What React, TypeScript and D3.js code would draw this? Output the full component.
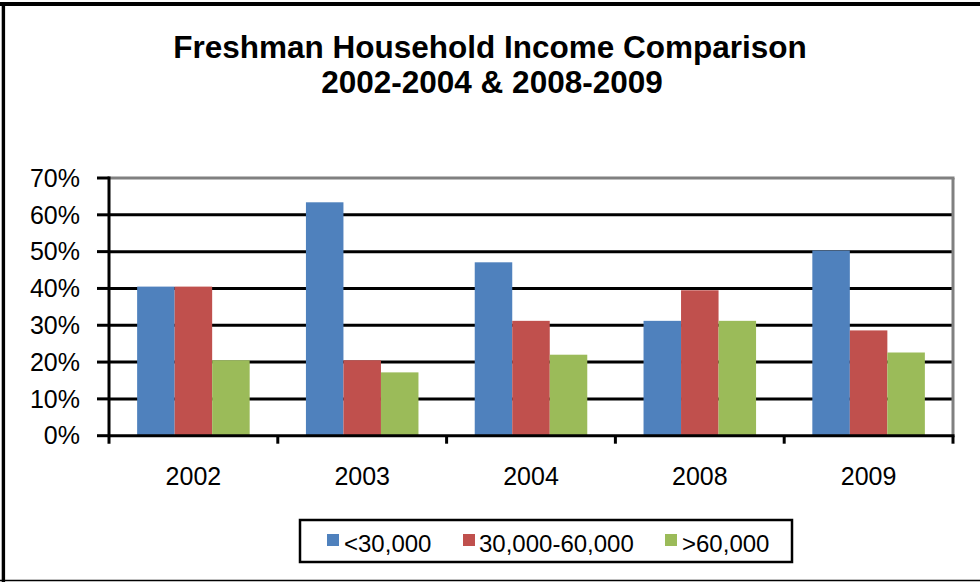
import React from "react";
import * as d3 from "d3";

const years = ["2002", "2003", "2004", "2008", "2009"];
const seriesNames = ["<30,000", "30,000-60,000", ">60,000"];
const under30 = [0.405, 0.634, 0.471, 0.312, 0.503];
const between30and60 = [0.405, 0.205, 0.312, 0.395, 0.286];
const over60 = [0.205, 0.172, 0.22, 0.312, 0.226];
const seriesColors = ["#4F81BD", "#C0504D", "#9BBB59"];
const yTicks = [0, 0.1, 0.2, 0.3, 0.4, 0.5, 0.6, 0.7];

const W = 980;
const H = 582;
const font = "'Liberation Sans', Arial, sans-serif";

export default function App() {
  const seriesValues = [under30, between30and60, over60];
  const left = 109;
  const right = 953;
  const top = 178;
  const bottom = 435.7;

  const x = d3.scaleBand<string>().domain(years).range([left, right]).paddingInner(0).paddingOuter(0);
  const x1 = d3
    .scaleBand<string>()
    .domain(seriesNames)
    .range([0, x.bandwidth()])
    .paddingInner(0)
    .paddingOuter(0.75);
  const y = d3.scaleLinear().domain([0, 0.7]).range([bottom, top]);
  const fmt = d3.format(".0%");

  const legendItems = [
    { mx: 327, tx: 344 },
    { mx: 463, tx: 479 },
    { mx: 665, tx: 682 },
  ];

  return (
    <svg
      width={W}
      height={H}
      style={{ position: "absolute", left: 0, top: 0, display: "block", background: "#fff" }}
      fontFamily={font}
    >
      {/* outer border */}
      <line x1={0} y1={4} x2={W} y2={4} stroke="#000" strokeWidth={4} />
      <line x1={3.4} y1={2} x2={3.4} y2={H} stroke="#000" strokeWidth={3.4} />
      <line x1={0} y1={580.5} x2={W} y2={580.5} stroke="#000" strokeWidth={1.5} />

      {/* title */}
      <text x={490} y={58} textAnchor="middle" fontWeight="bold" fontSize={31.5}>
        Freshman Household Income Comparison
      </text>
      <text x={492} y={93} textAnchor="middle" fontWeight="bold" fontSize={31.5}>
        2002-2004 &amp; 2008-2009
      </text>

      {/* gridlines */}
      {yTicks.slice(1, -1).map((t) => (
        <line key={"g" + t} x1={left} x2={right} y1={y(t)} y2={y(t)} stroke="#000" strokeWidth={3} />
      ))}
      {/* plot border top and right */}
      <line x1={left} x2={right + 1.5} y1={y(0.7)} y2={y(0.7)} stroke="#808080" strokeWidth={3} />
      <line x1={right} x2={right} y1={y(0.7)} y2={bottom} stroke="#808080" strokeWidth={3} />

      {/* bars */}
      {years.map((yr, i) => (
        <g key={yr}>
          {seriesValues.map((vals, s) => (
            <rect
              key={s}
              x={(x(yr) as number) + (x1(seriesNames[s]) as number)}
              y={y(vals[i])}
              width={x1.bandwidth()}
              height={bottom - y(vals[i])}
              fill={seriesColors[s]}
            />
          ))}
        </g>
      ))}

      {/* y axis */}
      <line x1={left} x2={left} y1={y(0.7) - 1.5} y2={bottom + 8} stroke="#000" strokeWidth={3} />
      {yTicks.map((t) => (
        <g key={"t" + t}>
          <line x1={97} x2={left} y1={y(t)} y2={y(t)} stroke="#000" strokeWidth={3} />
          <text x={80} y={y(t)} dy="0.35em" textAnchor="end" fontSize={25}>
            {fmt(t)}
          </text>
        </g>
      ))}

      {/* x axis */}
      <line x1={left} x2={right + 1.5} y1={bottom} y2={bottom} stroke="#000" strokeWidth={3} />
      {years.map((yr) => (
        <line
          key={"xt" + yr}
          x1={(x(yr) as number) + x.bandwidth()}
          x2={(x(yr) as number) + x.bandwidth()}
          y1={bottom}
          y2={bottom + 8}
          stroke="#000"
          strokeWidth={3}
        />
      ))}
      {years.map((yr) => (
        <text key={"xl" + yr} x={(x(yr) as number) + x.bandwidth() / 2} y={485} textAnchor="middle" fontSize={25}>
          {yr}
        </text>
      ))}

      {/* legend */}
      <rect x={300} y={520} width={492} height={42} fill="#fff" stroke="#000" strokeWidth={2.5} />
      {seriesNames.map((name, s) => (
        <g key={name}>
          <rect x={legendItems[s].mx} y={534} width={12} height={12} fill={seriesColors[s]} />
          <text x={legendItems[s].tx} y={551.5} fontSize={24}>
            {name}
          </text>
        </g>
      ))}
    </svg>
  );
}
